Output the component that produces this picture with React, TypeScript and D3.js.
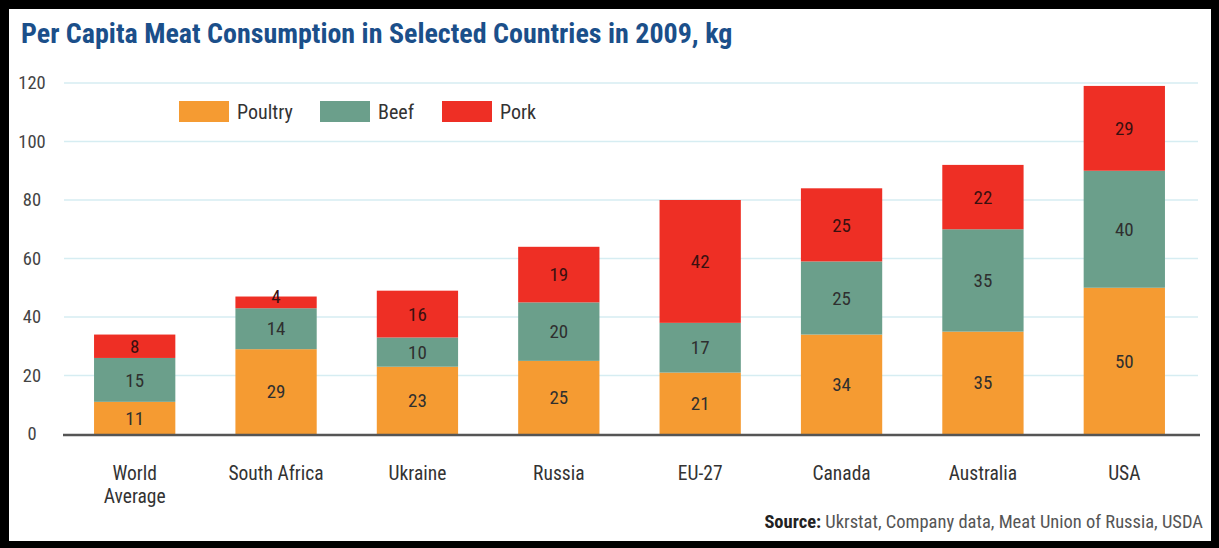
import React from "react";
import * as d3 from "d3";

const categories = ["World Average", "South Africa", "Ukraine", "Russia", "EU-27", "Canada", "Australia", "USA"];
const poultry = [11, 29, 23, 25, 21, 34, 35, 50];
const beef = [15, 14, 10, 20, 17, 25, 35, 40];
const pork = [8, 4, 16, 19, 42, 25, 22, 29];
const seriesNames = ["Poultry", "Beef", "Pork"];
const seriesColors = ["#F59B32", "#6B9F8B", "#EE2F25"];
const yTicks = [0, 20, 40, 60, 80, 100, 120];

const W = 1219;
const H = 548;
const FONT = "'Liberation Sans Narrow', 'Roboto Condensed', 'DejaVu Sans Condensed', 'Liberation Sans', Arial, sans-serif";

export default function App() {
  const x = d3.scaleBand<string>().domain(categories).range([64, 1195]).paddingInner(0.425).paddingOuter(0.2125);
  const y = d3.scaleLinear().domain([0, 120]).range([434, 83]);

  const rows = categories.map((c, i) => ({ cat: c, Poultry: poultry[i], Beef: beef[i], Pork: pork[i] }));
  const stack = d3.stack<any>().keys(seriesNames);
  const layers = stack(rows);

  const legendX = [179, 320, 442];

  return (
    <div style={{ position: "absolute", left: 0, top: 0 }}>
      <svg width={W} height={H} style={{ display: "block", fontFamily: FONT }}>
        <rect x={0} y={0} width={W} height={H} fill="#000" />
        <rect x={9} y={9} width={1202} height={532} fill="#fff" />
        <text x={21} y={43} fontSize={28} fontWeight="bold" fill="#1B4F8A" style={{ fontStretch: "condensed" }}>
          Per Capita Meat Consumption in Selected Countries in 2009, kg
        </text>
        {yTicks.map((t) => (
          <g key={t}>
            {t > 0 && <line x1={64} x2={1198} y1={y(t)} y2={y(t)} stroke="#D6EDF2" strokeWidth={1.5} />}
            <text x={32} y={y(t)} dy="0.35em" textAnchor="middle" fontSize={18.5} fill="#444">
              {t}
            </text>
          </g>
        ))}
        {layers.map((layer, li) =>
          layer.map((d, i) => {
            const x0 = x(categories[i])!;
            const y0 = y(d[1]);
            const h = y(d[0]) - y(d[1]);
            const val = d[1] - d[0];
            const small = h < 16;
            return (
              <g key={li + "-" + i}>
                <rect x={x0} y={y0} width={x.bandwidth()} height={h} fill={seriesColors[li]} />
                <text
                  x={x0 + x.bandwidth() / 2}
                  y={small ? y0 : y0 + h / 2}
                  dy="0.35em"
                  textAnchor="middle"
                  fontSize={19}
                  fill={li === 2 ? "#3a1010" : "#2f2f2f"}
                >
                  {val}
                </text>
              </g>
            );
          })
        )}
        <line x1={63} x2={1200} y1={y(0) + 1} y2={y(0) + 1} stroke="#555" strokeWidth={2.5} />
        {categories.map((c) => {
          const parts = c === "World Average" ? ["World", "Average"] : [c];
          return (
            <text key={c} x={x(c)! + x.bandwidth() / 2} y={480} textAnchor="middle" fontSize={19.5} fill="#333">
              {parts.map((p, k) => (
                <tspan key={k} x={x(c)! + x.bandwidth() / 2} dy={k === 0 ? 0 : 23}>
                  {p}
                </tspan>
              ))}
            </text>
          );
        })}
        {seriesNames.map((s, i) => (
          <g key={s}>
            <rect x={legendX[i]} y={101} width={50} height={21} fill={seriesColors[i]} />
            <text x={legendX[i] + 58} y={111.5} dy="0.35em" fontSize={20} fill="#333">
              {s}
            </text>
          </g>
        ))}
        <text x={1203} y={528} textAnchor="end" fontSize={18.5} fill="#555">
          <tspan fontWeight="bold" fill="#222">Source:</tspan> Ukrstat, Company data, Meat Union of Russia, USDA
        </text>
      </svg>
    </div>
  );
}
